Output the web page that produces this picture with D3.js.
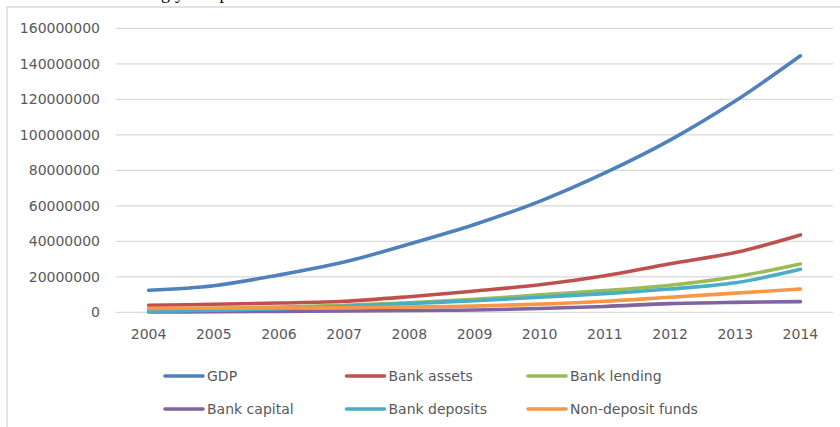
<!DOCTYPE html>
<html>
<head>
<meta charset="utf-8">
<script src="https://cdn.jsdelivr.net/npm/d3@7"></script>
<style>
  body { margin: 0; background: #fff; }
  svg { display: block; }
  .tick text, .legend text { font-family: "DejaVu Sans", sans-serif; fill: #595959; }
</style>
</head>
<body>
<div class="chart_box"></div>
<script>
// years and series values
var years = ["2004","2005","2006","2007","2008","2009","2010","2011","2012","2013","2014"];

var gdp         = [12.4e6, 15.0e6, 21e6, 28.3e6, 38.5e6, 49.5e6, 62.5e6, 78.5e6, 97e6, 119e6, 144.5e6];
var bankAssets  = [4.0e6, 4.5e6, 5.2e6, 6.2e6, 8.8e6, 12.0e6, 15.5e6, 20.6e6, 27.4e6, 33.7e6, 43.6e6];
var bankLending = [1.6e6, 2.2e6, 3.0e6, 3.9e6, 5.3e6, 7.3e6, 9.8e6, 12.2e6, 15.2e6, 20.0e6, 27.2e6];
var bankCapital = [0.2e6, 0.3e6, 0.5e6, 0.7e6, 1.0e6, 1.3e6, 2.1e6, 3.3e6, 4.9e6, 5.6e6, 6.0e6];
var bankDeposits = [0.6e6, 1.2e6, 2.0e6, 3.4e6, 5.0e6, 6.5e6, 8.5e6, 10.5e6, 13.1e6, 16.6e6, 24.2e6];
var nonDeposit  = [2.2e6, 2.3e6, 2.4e6, 2.6e6, 3.0e6, 3.5e6, 4.6e6, 6.2e6, 8.5e6, 10.8e6, 13.1e6];

var seriesNames = ["GDP", "Bank assets", "Bank lending", "Bank capital", "Bank deposits", "Non-deposit funds"];
var yTicks = [0, 20000000, 40000000, 60000000, 80000000, 100000000, 120000000, 140000000, 160000000];

var colors = ["#4F81BD", "#C0504D", "#9BBB59", "#8064A2", "#4BACC6", "#F79646"];

var series = [gdp, bankAssets, bankLending, bankCapital, bankDeposits, nonDeposit].map(function(vals, i){
  return { name: seriesNames[i], color: colors[i],
           values: vals.map(function(v, j){ return { year: years[j], value: v }; }) };
});

var width = 840, height = 427;

var svg = d3.select(".chart_box").append("svg")
            .attr("width", width)
            .attr("height", height);

// chart frame (runs past the right and bottom edges of the picture)
svg.append("rect")
   .attr("x", 7).attr("y", 7)
   .attr("width", 845).attr("height", 440)
   .attr("fill", "none")
   .attr("stroke", "#d9d9d9")
   .attr("stroke-width", 1.5);

// bit of the surrounding document text, cut off at the top as in the original
svg.append("text")
   .attr("x", 96).attr("y", -1)
   .attr("font-family", "Liberation Serif, serif")
   .attr("font-size", "18px")
   .attr("fill", "#000")
   .text("increasingly compared");

var x = d3.scaleBand()
    .domain(years)
    .range([116, 833])
    .paddingInner(0);

var y = d3.scaleLinear()
    .domain([0, 160000000])
    .range([312.3, 28.3]);

// gridlines
svg.append("g")
   .selectAll("line")
   .data(yTicks)
   .enter().append("line")
   .attr("x1", 116).attr("x2", 833)
   .attr("y1", function(d){ return y(d); })
   .attr("y2", function(d){ return y(d); })
   .attr("stroke", "#d9d9d9")
   .attr("stroke-width", 1.2);

// y axis labels
var yAxis = svg.append("g")
   .attr("transform", "translate(100,0)")
   .call(d3.axisLeft(y).tickValues(yTicks).tickSize(0).tickPadding(0).tickFormat(d3.format("d")));
yAxis.select(".domain").remove();
yAxis.selectAll("text").attr("font-size", "14px");

// x axis labels
var xAxis = svg.append("g")
   .attr("transform", "translate(0,313)")
   .call(d3.axisBottom(x).tickSize(0).tickPadding(16));
xAxis.select(".domain").remove();
xAxis.selectAll("text").attr("font-size", "14px");

var line = d3.line()
    .x(function(d){ return x(d.year) + x.bandwidth() / 2; })
    .y(function(d){ return y(d.value); })
    .curve(d3.curveCatmullRom.alpha(0.5));

svg.append("g")
   .selectAll("path")
   .data(series)
   .enter().append("path")
   .attr("d", function(d){ return line(d.values); })
   .attr("fill", "none")
   .attr("stroke", function(d){ return d.color; })
   .attr("stroke-width", 3.6)
   .attr("stroke-linecap", "round")
   .attr("stroke-linejoin", "round");

// legend, 3 per row
var legend = svg.append("g").attr("class", "legend");
var item = legend.selectAll("g")
   .data(series)
   .enter().append("g")
   .attr("transform", function(d, i){
      return "translate(" + (165 + (i % 3) * 181.5) + "," + (376 + Math.floor(i / 3) * 33) + ")";
   });

item.append("line")
   .attr("x1", 0).attr("x2", 38)
   .attr("y1", 0).attr("y2", 0)
   .attr("stroke", function(d){ return d.color; })
   .attr("stroke-width", 3.6)
   .attr("stroke-linecap", "round");

item.append("text")
   .attr("x", 42)
   .attr("y", 5)
   .attr("font-size", "14px")
   .text(function(d){ return d.name; });
</script>
</body>
</html>
